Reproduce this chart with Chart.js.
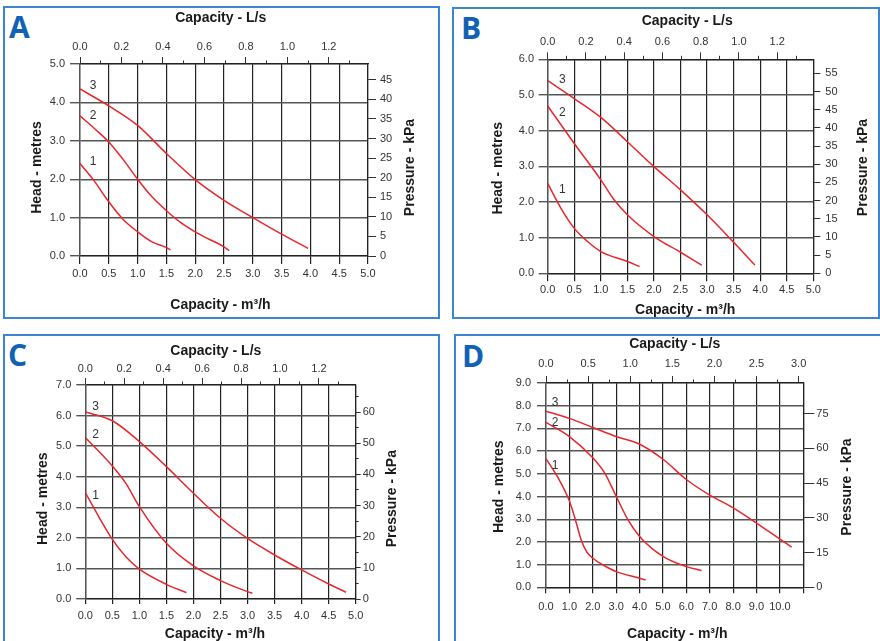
<!DOCTYPE html>
<html><head><meta charset="utf-8">
<script src="https://cdn.jsdelivr.net/npm/chart.js@4.4.1/dist/chart.umd.min.js"></script>
<style>
html,body{margin:0;padding:0;background:#fff;}
body{width:880px;height:641px;position:relative;overflow:hidden;}
.box{position:absolute;border:2px solid #3a86d0;box-sizing:border-box;}
.letter{position:absolute;font-family:'Open Sans',sans-serif;font-weight:700;font-size:30px;line-height:30px;color:#0f62b5;}
canvas{position:absolute;}
</style></head><body>
<div class="box" style="left:3px;top:6px;width:437px;height:313px"></div>
<div class="box" style="left:452px;top:7px;width:428px;height:312px"></div>
<div class="box" style="left:3px;top:334px;width:437px;height:320px"></div>
<div class="box" style="left:454px;top:334px;width:430px;height:320px"></div>
<div class="letter" style="left:9px;top:12px">A</div>
<div class="letter" style="left:461px;top:13px">B</div>
<div class="letter" style="left:8px;top:340px">C</div>
<div class="letter" style="left:462px;top:341px">D</div>
<canvas id="cA" width="440" height="320" style="left:0;top:0"></canvas>
<canvas id="cB" width="440" height="320" style="left:440px;top:0"></canvas>
<canvas id="cC" width="440" height="321" style="left:0;top:320px"></canvas>
<canvas id="cD" width="440" height="321" style="left:440px;top:320px"></canvas>
<script>
// ---- text ----
const HEAD_TITLE = 'Head - metres';
const KPA_TITLE = 'Pressure - kPa';
const LS_TITLE = 'Capacity - L/s';
const M3H_TITLE = 'Capacity - m³/h';
const CURVE_NAMES = ['1', '2', '3'];

// ---- axis ranges ----
const A_flowMax = 5, A_headMax = 5;
const B_flowMax = 5, B_headMax = 6;
const C_flowMax = 5, C_headMax = 7;
const D_flowMax = 11, D_headMax = 9;

// ---- Panel A data (flow m3/h, head m) ----
const A_flow1 = [0, 0.25, 0.47, 0.75, 1.0, 1.25, 1.5, 1.57];
const A_head1 = [2.41, 1.95, 1.47, 0.95, 0.63, 0.37, 0.22, 0.16];
const A_flow2 = [0, 0.25, 0.5, 0.75, 1.0, 1.25, 1.5, 1.75, 2.0, 2.25, 2.5, 2.59];
const A_head2 = [3.65, 3.32, 2.97, 2.51, 2.0, 1.54, 1.18, 0.87, 0.63, 0.43, 0.24, 0.14];
const A_flow3 = [0, 0.5, 1.0, 1.5, 2.0, 2.5, 3.0, 3.5, 3.96];
const A_head3 = [4.35, 3.91, 3.40, 2.67, 1.99, 1.45, 1.0, 0.57, 0.2];

// ---- Panel B ----
const B_flow1 = [0, 0.25, 0.5, 0.75, 1.0, 1.5, 1.73];
const B_head1 = [2.52, 1.82, 1.26, 0.89, 0.61, 0.33, 0.19];
const B_flow2 = [0, 0.5, 1.0, 1.25, 1.5, 2.0, 2.5, 2.9];
const B_head2 = [4.69, 3.64, 2.62, 2.06, 1.64, 1.03, 0.59, 0.23];
const B_flow3 = [0, 0.5, 1.0, 1.5, 2.0, 2.5, 3.0, 3.5, 3.9];
const B_head3 = [5.40, 4.90, 4.37, 3.69, 2.99, 2.34, 1.64, 0.87, 0.23];

// ---- Panel C ----
const C_flow1 = [0, 0.25, 0.5, 0.75, 1.0, 1.5, 1.87];
const C_head1 = [3.48, 2.69, 1.95, 1.38, 0.98, 0.48, 0.21];
const C_flow2 = [0, 0.5, 0.75, 1.0, 1.5, 2.0, 2.5, 3.0, 3.09];
const C_head2 = [5.28, 4.35, 3.78, 3.02, 1.82, 1.08, 0.60, 0.24, 0.19];
const C_flow3 = [0, 0.5, 1.0, 1.5, 2.0, 2.5, 3.0, 3.5, 4.0, 4.5, 4.82];
const C_head3 = [6.12, 5.83, 5.15, 4.33, 3.46, 2.64, 1.98, 1.44, 0.95, 0.49, 0.22];

// ---- Panel D ----
const D_flow1 = [0, 0.5, 1.0, 1.25, 1.5, 1.75, 2.0, 2.5, 3.0, 4.0, 4.26];
const D_head1 = [5.67, 4.85, 3.8, 3.0, 2.1, 1.55, 1.28, 0.95, 0.69, 0.40, 0.32];
const D_flow2 = [0, 1.0, 2.0, 2.5, 3.0, 3.5, 4.0, 5.0, 6.0, 6.65];
const D_head2 = [7.26, 6.64, 5.71, 5.05, 4.01, 2.98, 2.24, 1.36, 0.91, 0.74];
const D_flow3 = [0, 1, 2, 3, 4, 5, 6, 7, 8, 9, 10, 10.5];
const D_head3 = [7.76, 7.44, 7.04, 6.64, 6.30, 5.64, 4.75, 4.06, 3.50, 2.83, 2.12, 1.77];

// unit conversions
const M3H_TO_LS = 1 / 3.6;
const M_TO_KPA = 9.81;

const FONT = "'Liberation Sans', Arial, Helvetica, sans-serif";
const RED = '#e8262c';
const VGRID = '#222';
const HGRID = '#555';
const TICKC = '#333';
const TICK_FONT = {family: FONT, size: 11};

function titlesPlugin(s) {
  return {id: 'axisTitles', afterDraw(chart) {
    const ctx = chart.ctx;
    ctx.save();
    ctx.font = 'bold 14px ' + FONT;
    ctx.fillStyle = '#1a1a1a';
    ctx.textAlign = 'center';
    ctx.textBaseline = 'middle';
    s.titles.forEach(t => {
      ctx.save();
      ctx.translate(t.x, t.y);
      if (t.rot) ctx.rotate(-Math.PI / 2);
      ctx.fillText(t.text, 0, 0);
      ctx.restore();
    });
    ctx.restore();
  }};
}
function labelsPlugin(s) {
  return {id: 'curveLabels', afterDatasetsDraw(chart) {
    const ctx = chart.ctx, x = chart.scales.x, y = chart.scales.y;
    ctx.save();
    ctx.font = '12px ' + FONT;
    ctx.fillStyle = '#333';
    ctx.textAlign = 'center';
    ctx.textBaseline = 'middle';
    s.labelPos.forEach((p, i) => ctx.fillText(CURVE_NAMES[i], x.getPixelForValue(p[0]), y.getPixelForValue(p[1])));
    ctx.restore();
  }};
}

function makePanel(s) {
  const cv = document.getElementById(s.id);
  const W = cv.width, H = cv.height, a = s.area;
  const datasets = s.curves.map((c, i) => ({
    label: CURVE_NAMES[i],
    data: c[0].map((q, k) => ({x: q, y: c[1][k]})),
    borderColor: RED, borderWidth: 1.5, pointRadius: 0, fill: false,
    cubicInterpolationMode: 'monotone', xAxisID: 'x', yAxisID: 'y'
  }));
  const lsMax = s.xMax * M3H_TO_LS, kpaMax = s.yMax * M_TO_KPA;
  const scales = {
    x: {type: 'linear', position: 'bottom', min: 0, max: s.xMax,
      ticks: {stepSize: s.xStep, autoSkip: false, maxRotation: 0, minRotation: 0, padding: s.bPad,
        color: TICKC, font: TICK_FONT,
        callback: v => (s.xHide && s.xHide.includes(v)) ? '' : Number(v).toFixed(1)},
      grid: {color: VGRID, lineWidth: 1.2, tickLength: s.bTick, tickColor: VGRID, tickWidth: 1.2},
      border: {color: VGRID, width: 1.2},
      afterFit: sc => { sc.height = H - a.b; }},
    xTop: {type: 'linear', position: 'top', weight: 1, min: 0, max: lsMax,
      ticks: {stepSize: s.topStep, includeBounds: false, autoSkip: false, maxRotation: 0, minRotation: 0,
        padding: s.tPad, color: TICKC, font: TICK_FONT, callback: v => Number(v).toFixed(1)},
      grid: {drawOnChartArea: false, tickLength: s.tTick, tickColor: TICKC, tickWidth: 1},
      border: {color: VGRID, width: 1.2},
      afterFit: sc => { sc.height = a.t; }},
    xTopMinor: {type: 'linear', position: 'top', weight: 0, min: 0, max: lsMax,
      ticks: {stepSize: s.topMinor, includeBounds: false, display: false, autoSkip: false},
      grid: {drawOnChartArea: false, tickLength: s.tMinorTick, tickColor: TICKC, tickWidth: 1},
      border: {display: false},
      afterFit: sc => { sc.height = 0; }},
    y: {type: 'linear', position: 'left', min: 0, max: s.yMax,
      ticks: {stepSize: 1, padding: s.lPad, color: TICKC, font: TICK_FONT, callback: v => Number(v).toFixed(1)},
      grid: {color: HGRID, lineWidth: 1.4, tickLength: s.lTick, tickColor: HGRID, tickWidth: 1.4},
      border: {color: HGRID, width: 1.4},
      afterFit: sc => { sc.width = a.l; }},
    yRight: {type: 'linear', position: 'right', weight: 1, min: 0, max: kpaMax,
      ticks: {stepSize: s.rStep, includeBounds: false, padding: s.rPad, color: TICKC, font: TICK_FONT,
        callback: v => String(Math.round(v))},
      grid: {drawOnChartArea: false, tickLength: s.rTick, tickColor: TICKC, tickWidth: 1},
      border: {color: VGRID, width: 1.2},
      afterFit: sc => { sc.width = W - a.r; }}
  };
  if (s.rMinor) {
    scales.yRightMinor = {type: 'linear', position: 'right', weight: 0, min: 0, max: kpaMax,
      ticks: {stepSize: s.rMinor, includeBounds: false, display: false},
      grid: {drawOnChartArea: false, tickLength: s.rMinorTick, tickColor: TICKC, tickWidth: 1},
      border: {display: false},
      afterFit: sc => { sc.width = 0; }};
  }
  new Chart(cv, {
    type: 'line',
    data: {datasets},
    options: {
      responsive: false, animation: false, events: [],
      layout: {padding: 0},
      plugins: {legend: {display: false}, tooltip: {enabled: false}},
      scales
    },
    plugins: [titlesPlugin(s), labelsPlugin(s)]
  });
}

function titlesAt(ls, m3h, head, kpa) {
  return [
    {text: LS_TITLE, x: ls[0], y: ls[1]},
    {text: M3H_TITLE, x: m3h[0], y: m3h[1]},
    {text: HEAD_TITLE, x: head[0], y: head[1], rot: true},
    {text: KPA_TITLE, x: kpa[0], y: kpa[1], rot: true}
  ];
}

makePanel({id: 'cA', area: {l: 80, t: 64, r: 368, b: 256}, xMax: A_flowMax, xStep: 0.5, yMax: A_headMax,
  topStep: 0.2, topMinor: 0.1, rStep: 5,
  lTick: 10, lPad: 5, rTick: 8, rPad: 4, bTick: 8, bPad: 3.7, tTick: 7, tMinorTick: 3.5, tPad: 3.7,
  curves: [[A_flow1, A_head1], [A_flow2, A_head2], [A_flow3, A_head3]],
  labelPos: [[0.226, 2.45], [0.226, 3.65], [0.226, 4.43]],
  titles: titlesAt([220.7, 18.3], [220.5, 305], [37.3, 167.5], [410, 167.5])});

makePanel({id: 'cB', area: {l: 107.7, t: 59.3, r: 373.3, b: 273.3}, xMax: B_flowMax, xStep: 0.5, yMax: B_headMax,
  topStep: 0.2, topMinor: 0.1, rStep: 5,
  lTick: 9, lPad: 4.7, rTick: 7, rPad: 5, bTick: 8, bPad: 2.1, tTick: 7, tMinorTick: 3.5, tPad: 4,
  curves: [[B_flow1, B_head1], [B_flow2, B_head2], [B_flow3, B_head3]],
  labelPos: [[0.276, 2.34], [0.276, 4.5], [0.276, 5.42]],
  titles: titlesAt([247.2, 20.7], [245.2, 310], [58.3, 168.3], [422.7, 167.5])});

makePanel({id: 'cC', area: {l: 85.3, t: 65, r: 355.7, b: 279}, xMax: C_flowMax, xStep: 0.5, yMax: C_headMax,
  topStep: 0.2, topMinor: 0.1, rStep: 10, rMinor: 5, rMinorTick: 3,
  lTick: 9, lPad: 5, rTick: 5, rPad: 2, bTick: 5, bPad: 5.4, tTick: 7, tMinorTick: 3.5, tPad: 2.7,
  curves: [[C_flow1, C_head1], [C_flow2, C_head2], [C_flow3, C_head3]],
  labelPos: [[0.19, 3.38], [0.19, 5.37], [0.19, 6.29]],
  titles: titlesAt([215.8, 30.7], [215, 314.3], [43.3, 178.7], [392.3, 178.7])});

makePanel({id: 'cD', area: {l: 106, t: 63, r: 363.3, b: 267.3}, xMax: D_flowMax, xStep: 1, xHide: [11], yMax: D_headMax,
  topStep: 0.5, topMinor: 0.25, rStep: 15,
  lTick: 9, lPad: 6, rTick: 11, rPad: 2, bTick: 6, bPad: 7.4, tTick: 7, tMinorTick: 3.5, tPad: 5.1,
  curves: [[D_flow1, D_head1], [D_flow2, D_head2], [D_flow3, D_head3]],
  labelPos: [[0.385, 5.34], [0.385, 7.27], [0.385, 8.13]],
  titles: titlesAt([234.7, 24], [237.3, 314], [59.3, 166.7], [407.3, 167])});
</script>
</body></html>
